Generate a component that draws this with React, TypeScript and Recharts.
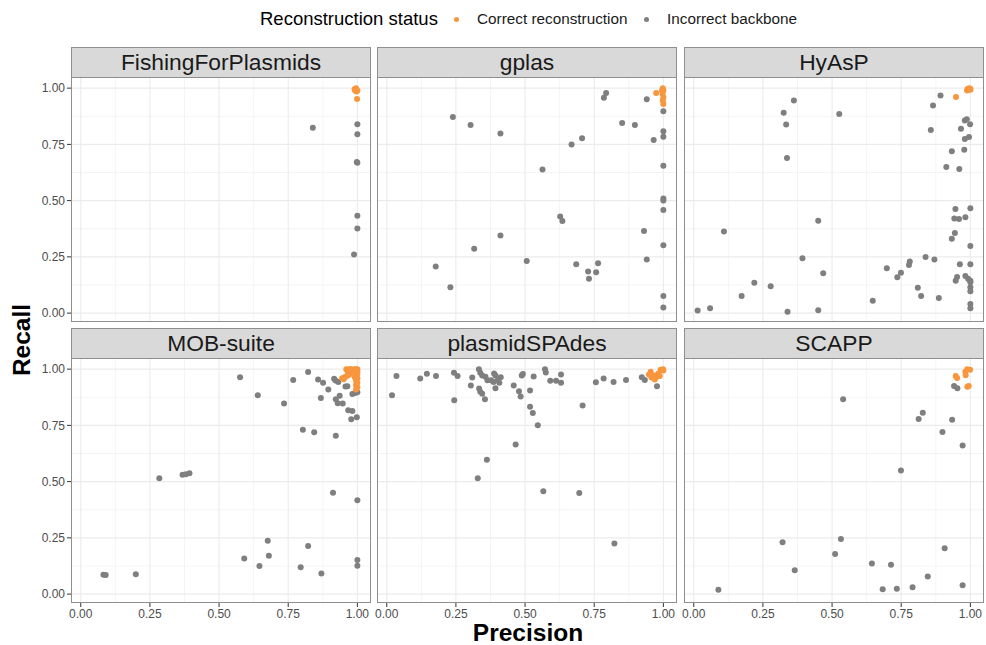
import React from "react";
import { ScatterChart, Scatter, XAxis, YAxis, CartesianGrid } from "recharts";

type Pt = [number, number]; // [precision, recall]

const tools = ["FishingForPlasmids", "gplas", "HyAsP", "MOB-suite", "plasmidSPAdes", "SCAPP"];
const statusTitle = "Reconstruction status";
const statusLabels = ["Correct reconstruction", "Incorrect backbone"];
const majorTicks = [0, 0.25, 0.5, 0.75, 1];
const minorTicks = [0.125, 0.375, 0.625, 0.875];

const fishingCorrect: Pt[] = [
  [0.995, 1.0], [0.99, 0.995], [1.0, 0.99], [0.997, 0.985], [0.992, 0.99], [0.999, 0.952],
];
const fishingIncorrect: Pt[] = [
  [0.839, 0.824], [1.0, 0.839], [1.0, 0.795], [0.998, 0.672], [1.0, 0.668],
  [1.0, 0.433], [1.0, 0.376], [0.988, 0.26],
];

const gplasCorrect: Pt[] = [
  [0.974, 0.978], [0.998, 1.0], [1.0, 0.99], [0.997, 0.975], [1.0, 0.96],
  [0.998, 0.945], [1.0, 0.93], [0.995, 0.99],
];
const gplasIncorrect: Pt[] = [
  [1.0, 0.897], [0.793, 0.978], [0.785, 0.957], [0.94, 0.951], [0.239, 0.872], [0.303, 0.836],
  [0.411, 0.798], [0.851, 0.845], [0.897, 0.836], [1.0, 0.808], [1.0, 0.784], [0.965, 0.769],
  [0.706, 0.777], [0.668, 0.749], [0.563, 0.638], [1.0, 0.655], [1.0, 0.51], [1.0, 0.501],
  [1.0, 0.458], [0.627, 0.429], [0.635, 0.409], [0.411, 0.345], [0.93, 0.365], [0.316, 0.286],
  [1.0, 0.302], [0.506, 0.232], [0.94, 0.238], [0.177, 0.207], [0.685, 0.217], [0.764, 0.222],
  [0.728, 0.185], [0.757, 0.182], [0.731, 0.153], [0.23, 0.115], [1.0, 0.076], [1.0, 0.025],
];

const hyaspCorrect: Pt[] = [
  [0.948, 0.961], [0.99, 0.996], [0.995, 1.0], [1.0, 0.993], [0.988, 0.99], [1.0, 0.997],
];
const hyaspIncorrect: Pt[] = [
  [0.892, 0.967], [0.362, 0.945], [0.865, 0.923], [0.325, 0.891], [0.526, 0.885], [0.334, 0.838],
  [0.98, 0.856], [0.987, 0.862], [0.999, 0.839], [0.966, 0.82], [0.857, 0.814], [0.98, 0.774],
  [0.995, 0.783], [0.933, 0.72], [0.978, 0.726], [0.337, 0.69], [0.913, 0.649], [0.96, 0.641],
  [0.946, 0.463], [1.0, 0.466], [0.942, 0.421], [0.959, 0.418], [0.982, 0.426], [0.45, 0.411],
  [0.944, 0.356], [0.933, 0.33], [0.109, 0.363], [1.0, 0.298], [0.393, 0.244], [0.838, 0.249],
  [0.87, 0.238], [0.781, 0.229], [0.778, 0.214], [0.962, 0.217], [1.0, 0.217], [0.698, 0.199],
  [0.749, 0.179], [0.736, 0.159], [0.468, 0.177], [0.952, 0.161], [0.947, 0.144], [0.982, 0.165],
  [0.992, 0.153], [1.0, 0.144], [1.0, 0.137], [0.219, 0.135], [0.173, 0.076], [0.278, 0.119],
  [0.81, 0.113], [1.0, 0.115], [1.0, 0.097], [0.822, 0.076], [0.886, 0.067], [0.647, 0.055],
  [1.0, 0.04], [1.0, 0.022], [0.059, 0.022], [0.014, 0.012], [0.339, 0.006], [0.45, 0.013],
];

const mobCorrect: Pt[] = [
  [0.96, 1.0], [0.97, 1.0], [0.975, 1.0], [0.98, 1.0], [0.99, 1.0], [0.995, 1.0], [1.0, 1.0],
  [0.965, 0.99], [0.975, 0.985], [0.985, 0.99], [1.0, 0.99], [1.0, 0.98], [0.995, 0.97],
  [1.0, 0.96], [0.99, 0.965], [0.995, 0.95], [1.0, 0.94], [0.995, 0.93], [1.0, 0.92], [0.995, 0.91],
  [0.945, 0.96], [0.95, 0.955], [0.955, 0.965], [0.962, 0.97], [0.97, 0.975],
];
const mobIncorrect: Pt[] = [
  [0.576, 0.964], [0.64, 0.884], [0.822, 0.987], [0.768, 0.952], [0.858, 0.954], [0.876, 0.939],
  [0.916, 0.957], [0.921, 0.949], [0.931, 0.943], [0.895, 0.909], [0.868, 0.872], [0.735, 0.847],
  [0.957, 0.923], [0.964, 0.924], [0.936, 0.882], [0.922, 0.866], [0.929, 0.848], [0.947, 0.847],
  [0.982, 0.89], [0.992, 0.894], [1.0, 0.897], [0.967, 0.817], [0.982, 0.814], [0.978, 0.777],
  [0.998, 0.786], [0.803, 0.731], [0.844, 0.72], [0.922, 0.704], [0.284, 0.515], [0.368, 0.531],
  [0.38, 0.533], [0.393, 0.537], [0.912, 0.451], [1.0, 0.417], [0.676, 0.237], [0.822, 0.214],
  [0.591, 0.158], [0.68, 0.17], [0.646, 0.125], [0.795, 0.119], [1.0, 0.152], [1.0, 0.126],
  [0.87, 0.092], [0.082, 0.086], [0.09, 0.085], [0.199, 0.088],
];

const spadesCorrect: Pt[] = [
  [0.954, 0.988], [0.963, 0.973], [0.948, 0.976], [0.975, 0.965], [0.969, 0.954], [0.981, 0.979],
  [0.99, 0.997], [0.999, 1.0], [1.0, 0.994], [0.987, 0.97], [0.957, 0.963],
];
const spadesIncorrect: Pt[] = [
  [0.977, 0.924], [0.019, 0.884], [0.035, 0.97], [0.121, 0.958], [0.145, 0.979], [0.178, 0.97],
  [0.243, 0.984], [0.256, 0.97], [0.244, 0.862], [0.309, 0.963], [0.304, 0.927], [0.333, 1.0],
  [0.338, 0.984], [0.345, 0.972], [0.357, 0.966], [0.364, 0.951], [0.377, 0.951], [0.388, 0.981],
  [0.393, 0.972], [0.401, 0.951], [0.386, 0.943], [0.407, 0.94], [0.412, 0.964], [0.334, 0.914],
  [0.338, 0.9], [0.345, 0.891], [0.355, 0.866], [0.393, 0.915], [0.459, 0.927], [0.478, 0.902],
  [0.484, 0.878], [0.488, 0.972], [0.492, 0.978], [0.531, 0.967], [0.518, 0.905], [0.518, 0.833],
  [0.528, 0.805], [0.546, 0.751], [0.572, 1.0], [0.575, 0.985], [0.591, 0.948], [0.612, 0.948],
  [0.63, 0.976], [0.63, 0.939], [0.708, 0.838], [0.466, 0.665], [0.362, 0.597], [0.329, 0.515],
  [0.566, 0.457], [0.696, 0.449], [0.823, 0.225], [0.756, 0.942], [0.784, 0.958], [0.82, 0.943],
  [0.865, 0.952], [0.922, 0.964], [0.933, 0.952],
];

const scappCorrect: Pt[] = [
  [0.947, 0.969], [0.952, 0.961], [0.982, 0.988], [0.989, 1.0], [0.999, 0.997], [0.983, 0.973],
  [0.989, 0.922], [0.994, 0.925],
];
const scappIncorrect: Pt[] = [
  [0.941, 0.925], [0.953, 0.915], [0.54, 0.866], [0.828, 0.806], [0.813, 0.778], [0.934, 0.775],
  [0.899, 0.721], [0.972, 0.661], [0.749, 0.549], [0.321, 0.231], [0.532, 0.245], [0.907, 0.204],
  [0.511, 0.178], [0.644, 0.136], [0.713, 0.131], [0.365, 0.106], [0.846, 0.078], [0.683, 0.022],
  [0.734, 0.024], [0.791, 0.031], [0.972, 0.039], [0.089, 0.019],
];

const correctByTool: Pt[][] = [fishingCorrect, gplasCorrect, hyaspCorrect, mobCorrect, spadesCorrect, scappCorrect];
const incorrectByTool: Pt[][] = [fishingIncorrect, gplasIncorrect, hyaspIncorrect, mobIncorrect, spadesIncorrect, scappIncorrect];

const ORANGE = "#F8963E";
const GREY = "#7F7F7F";
const FONT = '"Liberation Sans", Arial, sans-serif';

// facet geometry
const PANEL_LEFT = [71, 377, 684];
const PANEL_TOP = [77, 358];
const PANEL_W = 300;
const PANEL_H = 245;
const STRIP_H = 30;
const Y_AXIS_W = 60;
const X_AXIS_H = 30;
const SIDE_PAD = 18; // room for the end tick labels
const X_DOMAIN: [number, number] = [-0.0353, 1.0493];
const Y_DOMAIN: [number, number] = [-0.0395, 1.0495];

const toRows = (pts: Pt[]) => pts.map(([precision, recall]) => ({ precision, recall }));
const fmt = (v: number) => v.toFixed(2);

const Dot = (props: any) => <circle cx={props.cx} cy={props.cy} r={3} fill={props.fill} />;

function Facet({ idx }: { idx: number }) {
  const col = idx % 3;
  const row = Math.floor(idx / 3);
  const showY = col === 0;
  const showX = row === 1;
  const left = PANEL_LEFT[col];
  const top = PANEL_TOP[row];
  const padL = showY ? Y_AXIS_W : SIDE_PAD;
  const padR = SIDE_PAD;
  const tick = { fill: "#4D4D4D", fontSize: 12, fontFamily: FONT };

  return (
    <>
      <div
        style={{
          position: "absolute",
          left,
          top: top - STRIP_H,
          width: PANEL_W,
          height: STRIP_H + 1,
          boxSizing: "border-box",
          background: "#D9D9D9",
          border: "1px solid #8F8F8F",
          color: "#1A1A1A",
          fontFamily: FONT,
          fontSize: 22.8,
          lineHeight: `${STRIP_H - 1}px`,
          textAlign: "center",
          whiteSpace: "nowrap",
        }}
      >
        {tools[idx]}
      </div>
      <div style={{ position: "absolute", left: left - padL, top }}>
        <ScatterChart
          width={PANEL_W + padL + padR}
          height={PANEL_H + (showX ? X_AXIS_H : 0)}
          margin={{ top: 0, right: padR, bottom: 0, left: showY ? 0 : padL }}
        >
          <CartesianGrid
            stroke="#EBEBEB"
            strokeWidth={0.55}
            horizontalValues={minorTicks}
            verticalValues={minorTicks}
          />
          <CartesianGrid
            stroke="#EBEBEB"
            strokeWidth={1.07}
            horizontalValues={majorTicks}
            verticalValues={majorTicks}
          />
          <XAxis
            type="number"
            dataKey="precision"
            domain={X_DOMAIN}
            allowDataOverflow
            ticks={majorTicks}
            tickFormatter={fmt}
            hide={!showX}
            height={X_AXIS_H}
            axisLine={false}
            tickLine={{ stroke: "#333333" }}
            tickSize={4}
            tickMargin={2}
            tick={tick}
            interval={0}
          />
          <YAxis
            type="number"
            dataKey="recall"
            domain={Y_DOMAIN}
            allowDataOverflow
            ticks={majorTicks}
            tickFormatter={fmt}
            hide={!showY}
            width={Y_AXIS_W}
            axisLine={false}
            tickLine={{ stroke: "#333333" }}
            tickSize={4}
            tickMargin={2}
            tick={tick}
            interval={0}
          />
          <Scatter data={toRows(incorrectByTool[idx])} fill={GREY} shape={Dot} isAnimationActive={false} />
          <Scatter data={toRows(correctByTool[idx])} fill={ORANGE} shape={Dot} isAnimationActive={false} />
        </ScatterChart>
      </div>
      <div
        style={{
          position: "absolute",
          left,
          top,
          width: PANEL_W,
          height: PANEL_H,
          boxSizing: "border-box",
          border: "1px solid #8F8F8F",
          pointerEvents: "none",
        }}
      />
    </>
  );
}

function LegendKey({ x, color, label }: { x: number; color: string; label: string }) {
  return (
    <>
      <span
        style={{
          position: "absolute",
          left: x - 2.5,
          top: 16.5,
          width: 5,
          height: 5,
          borderRadius: 2.5,
          background: color,
        }}
      />
      <span
        style={{
          position: "absolute",
          left: x + 21,
          top: 19,
          transform: "translateY(-50%)",
          fontSize: 15.3,
          color: "#1A1A1A",
          whiteSpace: "nowrap",
        }}
      >
        {label}
      </span>
    </>
  );
}

export default function App() {
  return (
    <div
      style={{
        position: "absolute",
        left: 0,
        top: 0,
        width: 986,
        height: 645,
        background: "#FFFFFF",
        fontFamily: FONT,
        overflow: "hidden",
      }}
    >
      <span
        style={{
          position: "absolute",
          left: 260,
          top: 19,
          transform: "translateY(-50%)",
          fontSize: 18.5,
          color: "#000",
          whiteSpace: "nowrap",
        }}
      >
        {statusTitle}
      </span>
      <LegendKey x={456} color={ORANGE} label={statusLabels[0]} />
      <LegendKey x={646} color={GREY} label={statusLabels[1]} />

      {tools.map((_, i) => (
        <Facet key={tools[i]} idx={i} />
      ))}

      <div
        style={{
          position: "absolute",
          left: 22,
          top: 340,
          transform: "translate(-50%, -50%) rotate(-90deg)",
          fontSize: 24.5,
          fontWeight: "bold",
          whiteSpace: "nowrap",
        }}
      >
        Recall
      </div>
      <div
        style={{
          position: "absolute",
          left: 528,
          top: 633,
          transform: "translate(-50%, -50%)",
          fontSize: 24.5,
          fontWeight: "bold",
          whiteSpace: "nowrap",
        }}
      >
        Precision
      </div>
    </div>
  );
}
